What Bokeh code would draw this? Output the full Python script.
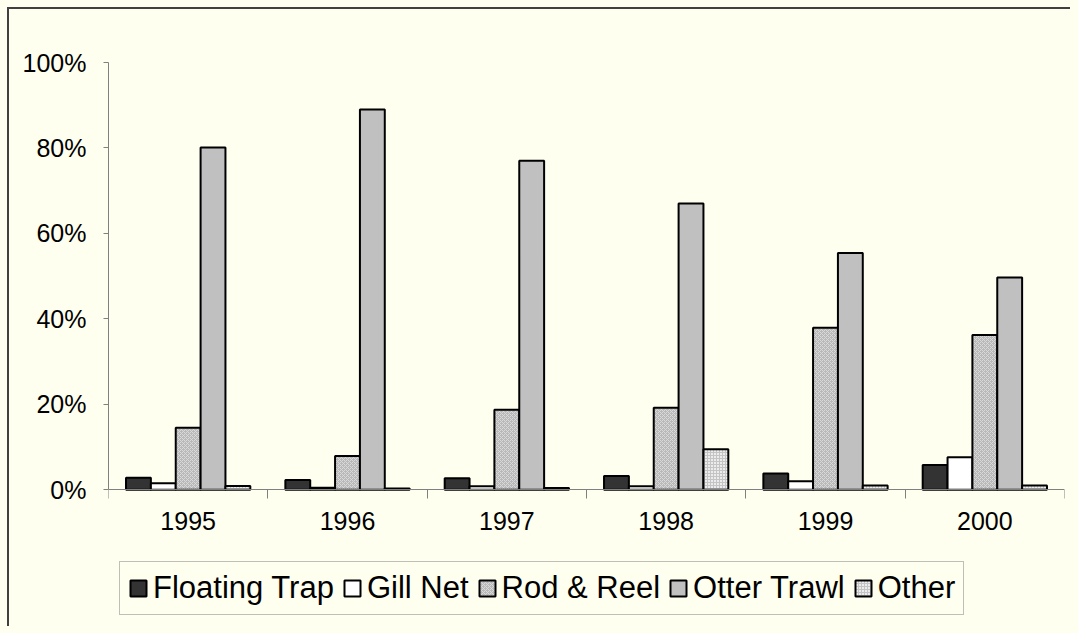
from bokeh.plotting import figure
from bokeh.models import FixedTicker, Legend, LegendItem, NumeralTickFormatter, Range1d
from bokeh.embed import file_html
from bokeh.resources import INLINE

# ---- data (percent of landings by gear) ----
years = ["1995", "1996", "1997", "1998", "1999", "2000"]
gears = ["Floating Trap", "Gill Net", "Rod & Reel", "Otter Trawl", "Other"]
floating_trap = [2.8, 2.3, 2.7, 3.2, 3.8, 5.8]
gill_net = [1.5, 0.5, 0.8, 0.8, 2.0, 7.6]
rod_reel = [14.5, 7.9, 18.7, 19.2, 37.9, 36.2]
otter_trawl = [80.1, 89.0, 77.0, 67.0, 55.4, 49.7]
other = [0.9, 0.3, 0.4, 9.5, 1.0, 1.0]
y_ticks = [0, 20, 40, 60, 80, 100]

series = [floating_trap, gill_net, rod_reel, otter_trawl, other]

BG = "#FFFFF0"
FONT = "Liberation Sans"

styles = [
    dict(fill_color="#333333"),
    dict(fill_color="#FFFFFF"),
    dict(fill_color="#B8B8B8", hatch_pattern="diagonal_cross", hatch_color="#DADADA",
         hatch_scale=4, hatch_weight=1),
    dict(fill_color="#C0C0C0"),
    dict(fill_color="#ECECEC", hatch_pattern="cross", hatch_color="#C4C4C4",
         hatch_scale=3, hatch_weight=1),
]

Y_MIN = -0.32  # extra room under the baseline for the category labels and legend

p = figure(
    frame_width=956, frame_height=564,
    min_border_left=99, min_border_top=53, min_border_right=6, min_border_bottom=0,
    x_range=Range1d(0, len(years)), y_range=Range1d(Y_MIN, 1),
    output_backend="svg", toolbar_location=None,
    background_fill_color=BG, border_fill_color=BG, outline_line_color=None,
)
p.styles = {"border-top": "2px solid #404040", "border-left": "2px solid #404040"}

w = 0.156
renderers = []
for k, (name, vals, st) in enumerate(zip(gears, series, styles)):
    xs = [i + 0.5 + (k - 2) * w for i in range(len(years))]
    tops = [v / 100.0 for v in vals]
    r = p.vbar(x=xs, top=tops, bottom=0, width=w, line_color="black", line_width=2, **st)
    renderers.append(r)

p.xgrid.visible = False
p.ygrid.visible = False

# y axis
p.yaxis.ticker = FixedTicker(ticks=[t / 100.0 for t in y_ticks], minor_ticks=[])
p.yaxis.formatter = NumeralTickFormatter(format="0%")
p.yaxis.bounds = (0, 1)
p.yaxis.axis_line_color = "#808080"
p.yaxis.major_tick_line_color = "#808080"
p.yaxis.major_tick_out = 5
p.yaxis.major_tick_in = 0
p.yaxis.minor_tick_line_color = None
p.yaxis.major_label_text_font = FONT
p.yaxis.major_label_text_font_size = "25px"
p.yaxis.major_label_text_color = "black"
p.yaxis.major_label_standoff = 17

# x axis (drawn at the 0% baseline)
p.xaxis.fixed_location = 0
p.xaxis.ticker = FixedTicker(ticks=[i + 0.5 for i in range(len(years))],
                             minor_ticks=list(range(len(years) + 1)))
p.xaxis.major_label_overrides = {i + 0.5: y for i, y in enumerate(years)}
p.xaxis.axis_line_color = "#808080"
p.xaxis.major_tick_line_color = None
p.xaxis.major_tick_out = 0
p.xaxis.major_tick_in = 0
p.xaxis.minor_tick_line_color = "#808080"
p.xaxis.minor_tick_out = 9
p.xaxis.minor_tick_in = 0
p.xaxis.major_label_text_font = FONT
p.xaxis.major_label_text_font_size = "25px"
p.xaxis.major_label_text_color = "black"
p.xaxis.major_label_standoff = 13

legend = Legend(
    items=[LegendItem(label=n, renderers=[r]) for n, r in zip(gears, renderers)],
    orientation="horizontal", location=(11, 11), margin=0,
    border_line_color="#808080", border_line_width=1,
    background_fill_color=BG, background_fill_alpha=1,
    label_text_font=FONT, label_text_font_size="31px", label_text_color="black",
    glyph_width=20, glyph_height=20, label_standoff=5, spacing=8, padding=8,
)
p.add_layout(legend)

html = file_html(p, INLINE)
html = html.replace("<body>", '<body style="margin:7px; overflow:hidden; background-color:#FFFFF0;">')
open("out.html", "w").write(html)
